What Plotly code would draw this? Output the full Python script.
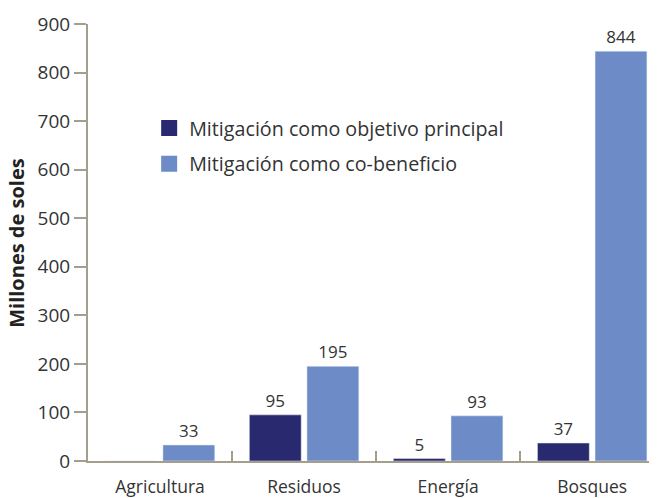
import plotly.graph_objects as go

categories = ["Agricultura", "Residuos", "Energía", "Bosques"]
principal = [0, 95, 5, 37]
cobeneficio = [33, 195, 93, 844]
y_ticks = [0, 100, 200, 300, 400, 500, 600, 700, 800, 900]

dark = "#29296f"
light = "#6d8bc6"
axis_col = "#a39f8c"
txt = "#333333"
font = "Open Sans"

fig = go.Figure()
fig.add_trace(go.Bar(x=categories, y=principal, marker_color=dark,
                     text=[str(v) if v else "" for v in principal],
                     textposition="outside", cliponaxis=False,
                     textfont=dict(size=17, color=txt), showlegend=False))
fig.add_trace(go.Bar(x=categories, y=cobeneficio, marker_color=light,
                     text=[str(v) for v in cobeneficio],
                     textposition="outside", cliponaxis=False,
                     textfont=dict(size=17, color=txt), showlegend=False))

# legend entries with bigger squares
fig.add_trace(go.Scatter(x=[None], y=[None], mode="markers", name="Mitigación como objetivo principal",
                         marker=dict(symbol="square", size=16, color=dark), legendgroup="a"))
fig.add_trace(go.Scatter(x=[None], y=[None], mode="markers", name="Mitigación como co-beneficio",
                         marker=dict(symbol="square", size=16, color=light), legendgroup="b"))

# page body has an 8px margin, so the figure is 8px smaller than the window
fig.update_layout(
    width=649, height=490,
    margin=dict(l=80, r=0, t=16, b=37),
    plot_bgcolor="white", paper_bgcolor="white",
    font=dict(family=font, color=txt),
    barmode="group", bargap=0.2, bargroupgap=0.1,
    legend=dict(x=0.1075, y=0.806, xanchor="left", yanchor="top",
                font=dict(size=19.7, color=txt), traceorder="grouped",
                tracegroupgap=7, bgcolor="rgba(0,0,0,0)"),
)
fig.add_annotation(text="<b>Millones de soles</b>", xref="paper", yref="paper",
                   x=-0.126, y=0.5, xanchor="center", yanchor="middle",
                   textangle=-90, showarrow=False,
                   font=dict(size=20, color="#222222"))
fig.update_xaxes(range=[-0.5, 3.45], showline=True, linecolor=axis_col, linewidth=2,
                 ticks="inside", tickson="boundaries", ticklen=10, tickcolor=axis_col,
                 tickwidth=2, tickfont=dict(size=17.5, color=txt), showgrid=False,
                 ticklabelstandoff=9, automargin=False)
fig.update_yaxes(range=[0, 900], tickvals=y_ticks, showline=True, linecolor=axis_col,
                 linewidth=2, ticks="outside", ticklen=12, tickcolor=axis_col, tickwidth=2,
                 tickfont=dict(size=19, color=txt), showgrid=False, zeroline=False,
                 automargin=False)

fig.write_html("out.html")
